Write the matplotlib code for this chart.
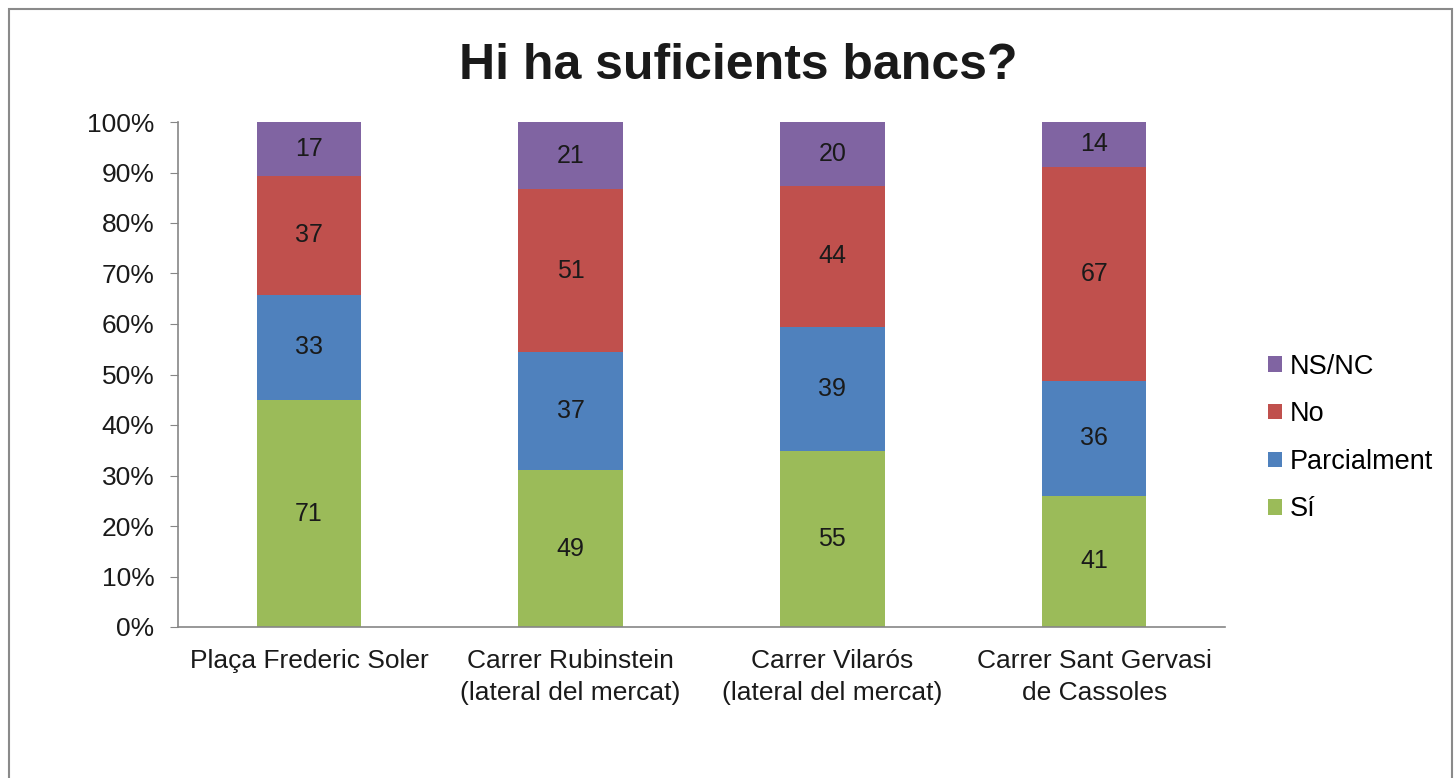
import numpy as np
import matplotlib.pyplot as plt
from matplotlib.patches import Rectangle

plt.rcParams['font.family'] = ['Liberation Sans', 'DejaVu Sans']

# survey answers (counts) per location
llocs = ["Plaça Frederic Soler", "Carrer Rubinstein\n(lateral del mercat)",
         "Carrer Vilarós\n(lateral del mercat)", "Carrer Sant Gervasi\nde Cassoles"]
si = [71, 49, 55, 41]
parcialment = [33, 37, 39, 36]
no = [37, 51, 44, 67]
nsnc = [17, 21, 20, 14]

series = [("Sí", si, "#9BBB59"),
          ("Parcialment", parcialment, "#4F81BD"),
          ("No", no, "#C0504D"),
          ("NS/NC", nsnc, "#8064A2")]

totals = np.array(si) + np.array(parcialment) + np.array(no) + np.array(nsnc)

fig = plt.figure(figsize=(14.56, 7.78), dpi=100)
ax = fig.add_axes([178 / 1456, 151 / 778, 1047 / 1456, 505 / 778])

# outer chart border
fig.patches.append(Rectangle((9 / 1456, -0.02), 1443 / 1456, 1.02 - 9 / 778,
                             transform=fig.transFigure, fill=False,
                             edgecolor="#8a8a8a", linewidth=1.5))

x = np.arange(len(llocs))
bottom = np.zeros(len(llocs))
handles = []
for name, vals, col in series:
    frac = np.array(vals) / totals
    b = ax.bar(x, frac, 0.4, bottom=bottom, color=col, label=name)
    handles.append(b)
    for xi, f, bt, v in zip(x, frac, bottom, vals):
        ax.text(xi, bt + f / 2, str(v), ha="center", va="center",
                fontsize=18, color="#1a1a1a")
    bottom += frac

ax.set_xlim(-0.5, 3.5)
ax.set_ylim(0, 1)
ax.set_yticks(np.arange(0, 1.01, 0.1))
ax.set_yticklabels(["%d%%" % round(t * 100) for t in np.arange(0, 1.01, 0.1)])
ax.set_xticks(x)
ax.set_xticklabels(llocs, fontsize=19, color="#1a1a1a", linespacing=1.4)
ax.tick_params(axis="y", labelsize=19, labelcolor="#1a1a1a", length=6,
               color="#868686", direction="out", pad=11)
ax.tick_params(axis="x", length=0, pad=16)
for s in ["top", "right"]:
    ax.spines[s].set_visible(False)
for s in ["left", "bottom"]:
    ax.spines[s].set_color("#868686")
    ax.spines[s].set_linewidth(1.2)

fig.text(738 / 1456, 1 - 66 / 778, "Hi ha suficients bancs?", ha="center",
         va="center", fontsize=36, fontweight="bold", color="#1a1a1a")

leg = fig.legend(handles[::-1], [s[0] for s in series][::-1],
                 loc="center left", bbox_to_anchor=(1244 / 1456, 1 - 438 / 778),
                 frameon=False, fontsize=19.5, handlelength=0.5,
                 handleheight=0.5, handletextpad=0.3, labelspacing=0.8)

fig.savefig("out.png", dpi=100)
